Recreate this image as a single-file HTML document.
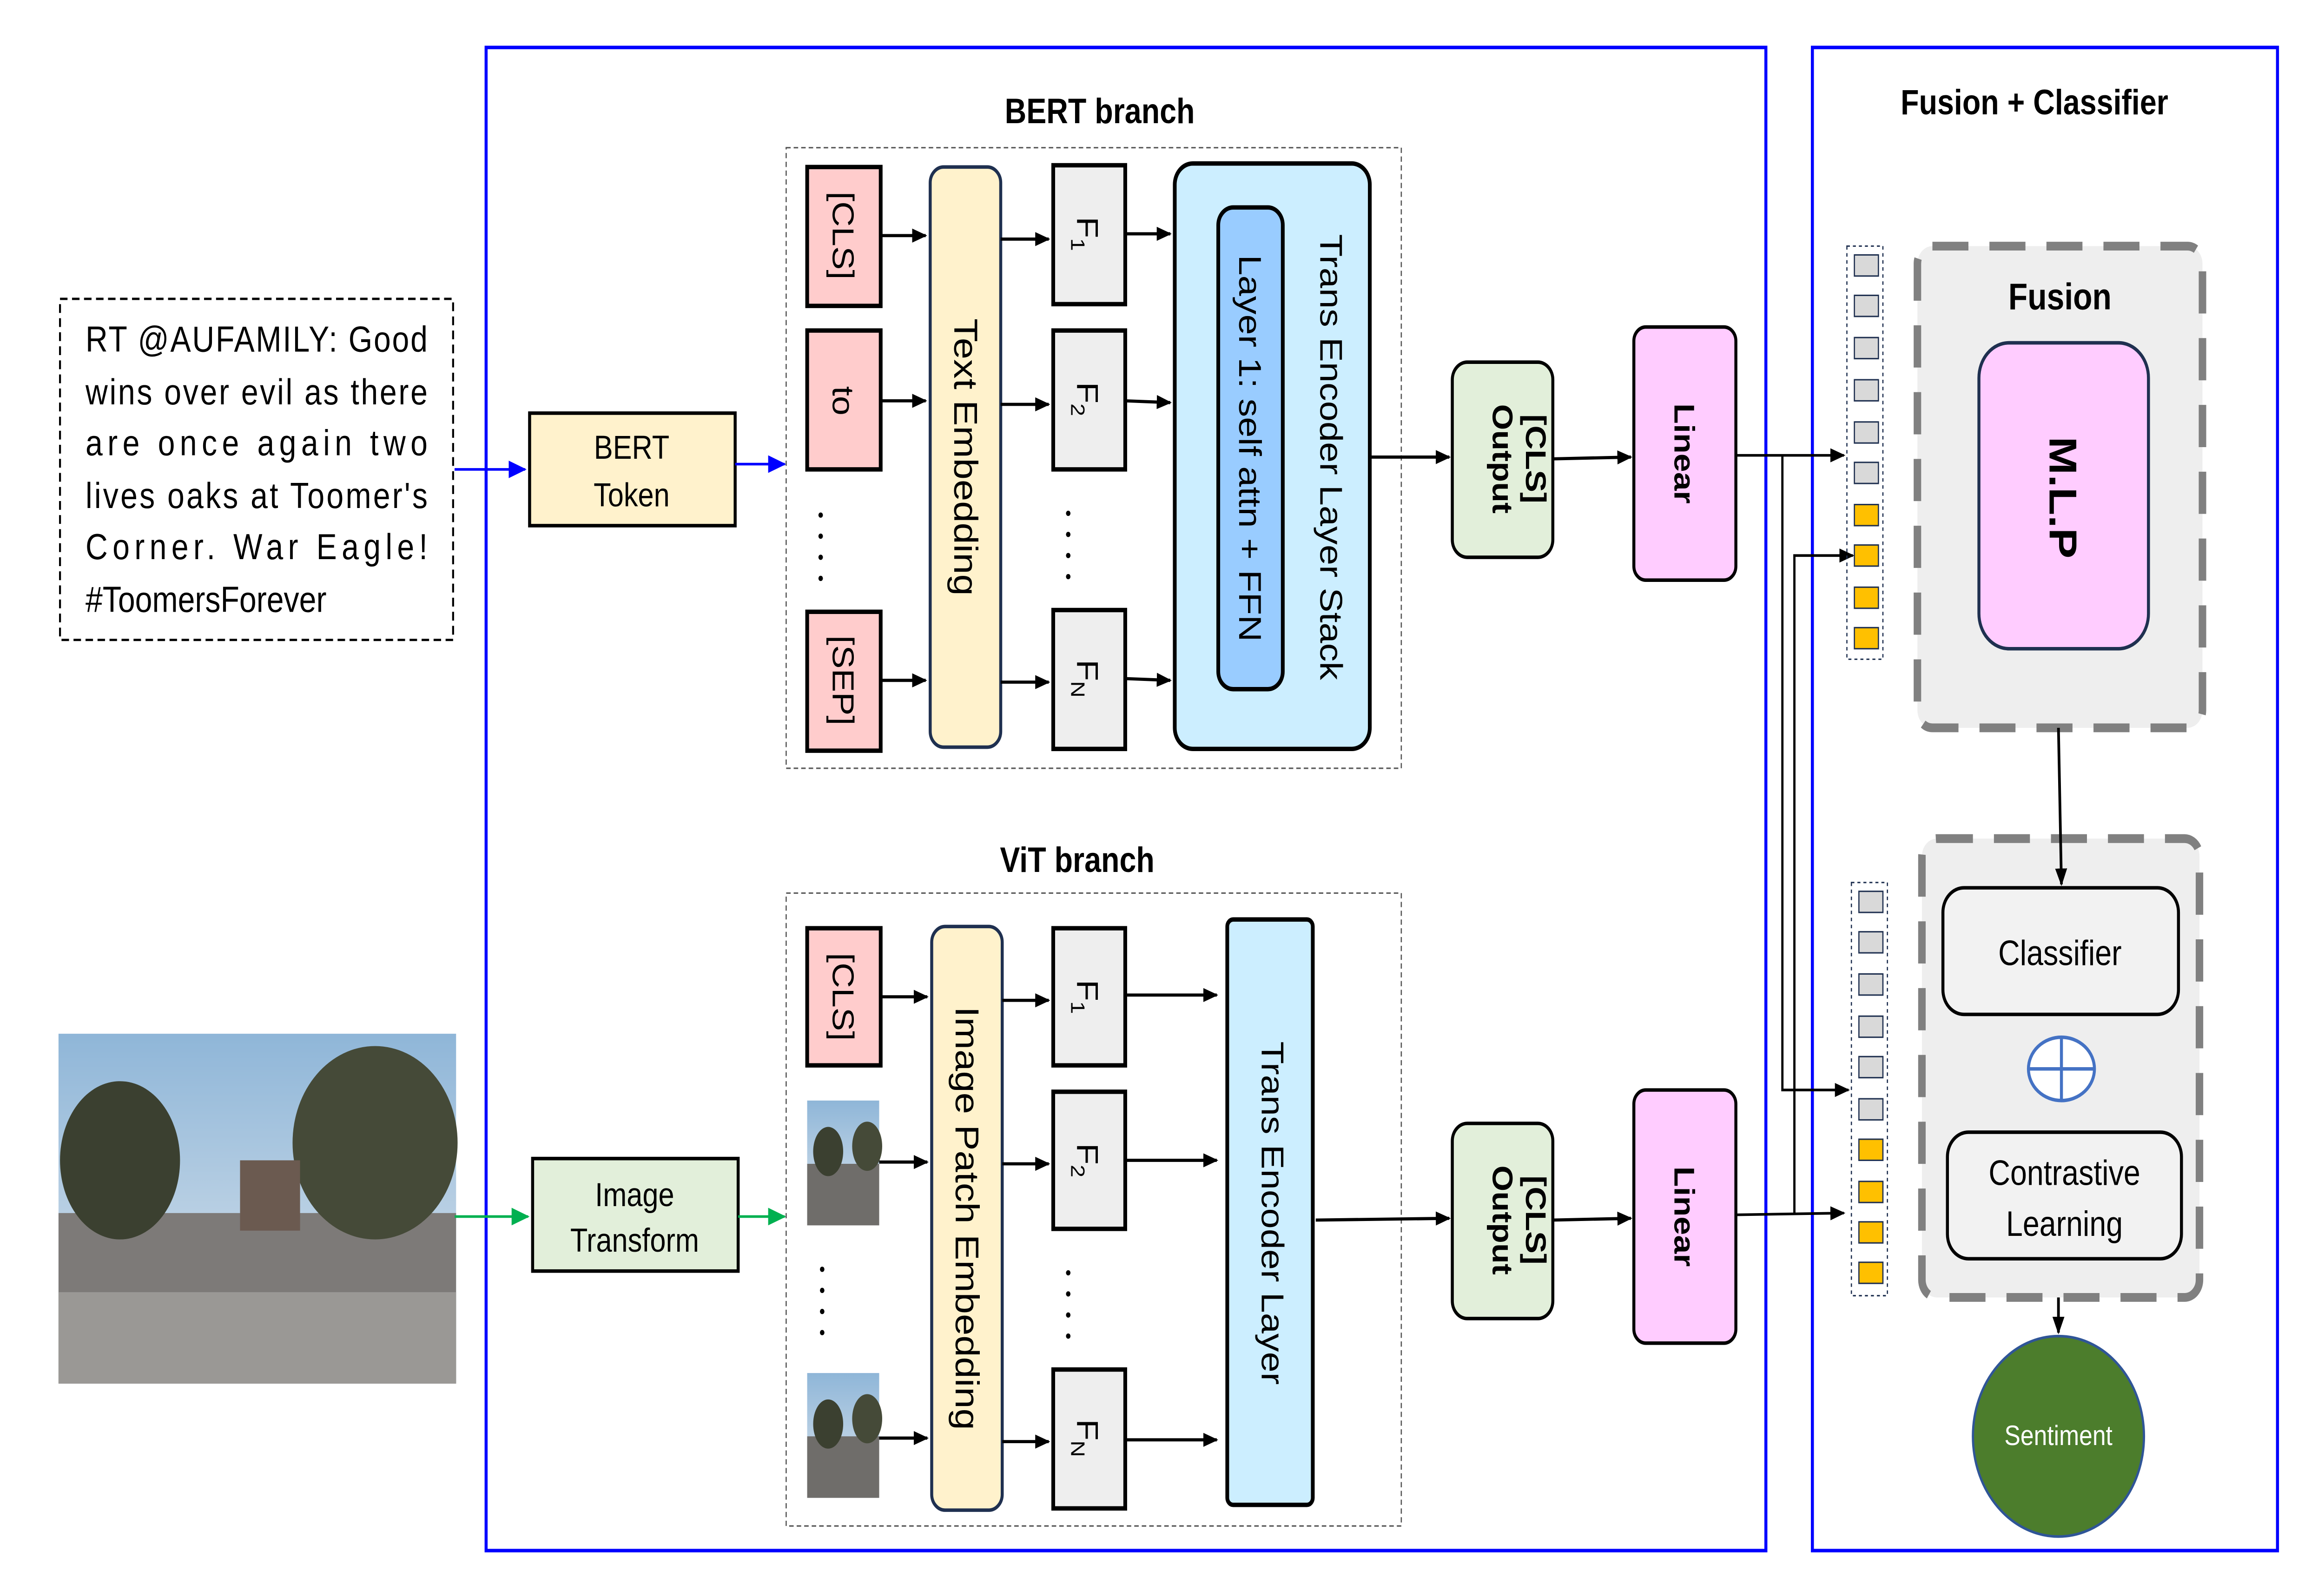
<!DOCTYPE html>
<html><head><meta charset="utf-8"><style>html,body{margin:0;padding:0;background:#fff;width:100%;height:100%;overflow:hidden}svg{display:block;position:absolute;left:0;top:0;width:100vw;height:100vh}</style></head><body>
<svg xmlns="http://www.w3.org/2000/svg" viewBox="0 0 1549 901" preserveAspectRatio="none" font-family="Liberation Sans, sans-serif">
<defs>
<marker id="ak" markerWidth="10" markerHeight="8" refX="9" refY="4" orient="auto" markerUnits="userSpaceOnUse"><path d="M0,0 L10,4 L0,8 z" fill="#000"/></marker>
<marker id="ab" markerWidth="12" markerHeight="10" refX="11" refY="5" orient="auto" markerUnits="userSpaceOnUse"><path d="M0,0 L12,5 L0,10 z" fill="#0000ff"/></marker>
<marker id="ag" markerWidth="12" markerHeight="10" refX="11" refY="5" orient="auto" markerUnits="userSpaceOnUse"><path d="M0,0 L12,5 L0,10 z" fill="#00b050"/></marker>
<linearGradient id="sky" x1="0" y1="0" x2="0" y2="1"><stop offset="0" stop-color="#8fb6d8"/><stop offset="1" stop-color="#dfe7ee"/></linearGradient>
</defs>
<rect width="1549" height="901" fill="#fff"/>
<rect x="324" y="27" width="853" height="855" fill="none" stroke="#0000ff" stroke-width="2"/>
<rect x="1208" y="27" width="310" height="855" fill="none" stroke="#0000ff" stroke-width="2"/>
<text x="1356" y="65" font-size="20" font-weight="bold" text-anchor="middle">Fusion + Classifier</text>
<rect x="40" y="170" width="262" height="194" fill="#fff" stroke="#000" stroke-width="1.3" stroke-dasharray="5,3"/>
<g font-size="20.5">
<text x="57" y="200" textLength="228" lengthAdjust="spacing">RT @AUFAMILY: Good</text>
<text x="57" y="230" textLength="228" lengthAdjust="spacing">wins over evil as there</text>
<text x="57" y="259" textLength="228" lengthAdjust="spacing">are once again two</text>
<text x="57" y="289" textLength="228" lengthAdjust="spacing">lives oaks at Toomer's</text>
<text x="57" y="318" textLength="228" lengthAdjust="spacing">Corner. War Eagle!</text>
<text x="57" y="348">#ToomersForever</text>
</g>
<rect x="39" y="588" width="265" height="199" fill="url(#sky)"/>
<rect x="39" y="690" width="265" height="97" fill="#7d7a78"/>
<rect x="39" y="735" width="265" height="52" fill="#9a9895"/>
<ellipse cx="80" cy="660" rx="40" ry="45" fill="#3b4030"/>
<ellipse cx="250" cy="650" rx="55" ry="55" fill="#454a38"/>
<rect x="160" y="660" width="40" height="40" fill="#6b5a50"/>
<line x1="303" y1="267" x2="350" y2="267" stroke="#0000ff" stroke-width="1.5" marker-end="url(#ab)"/>
<rect x="353" y="235" width="137" height="64" fill="#fff2cc" stroke="#000" stroke-width="2"/>
<text x="421" y="261" font-size="19" text-anchor="middle">BERT</text>
<text x="421" y="288" font-size="19" text-anchor="middle">Token</text>
<line x1="490" y1="264" x2="523" y2="264" stroke="#0000ff" stroke-width="1.5" marker-end="url(#ab)"/>
<line x1="303" y1="692" x2="352" y2="692" stroke="#00b050" stroke-width="1.5" marker-end="url(#ag)"/>
<rect x="355" y="659" width="137" height="64" fill="#e2efda" stroke="#000" stroke-width="2"/>
<text x="423" y="686" font-size="19" text-anchor="middle">Image</text>
<text x="423" y="712" font-size="19" text-anchor="middle">Transform</text>
<line x1="492" y1="692" x2="523" y2="692" stroke="#00b050" stroke-width="1.5" marker-end="url(#ag)"/>
<text x="733" y="70" font-size="20" font-weight="bold" text-anchor="middle">BERT branch</text>
<rect x="524" y="84" width="410" height="353" fill="none" stroke="#555" stroke-width="0.8" stroke-dasharray="3,2"/>
<g stroke="#000" stroke-width="2.5">
<rect x="538" y="95" width="49" height="79" fill="#ffcccc"/>
<rect x="538" y="188" width="49" height="79" fill="#ffcccc"/>
<rect x="538" y="348" width="49" height="79" fill="#ffcccc"/>
<rect x="702" y="94" width="48" height="79" fill="#eeeeee"/>
<rect x="702" y="188" width="48" height="79" fill="#eeeeee"/>
<rect x="702" y="347" width="48" height="79" fill="#eeeeee"/>
<rect x="783" y="93" width="130" height="333" rx="12" fill="#cceeff"/>
<rect x="812" y="118" width="43" height="274" rx="10" fill="#99ccff"/>
</g>
<rect x="620" y="95" width="47" height="330" rx="9" fill="#fff2cc" stroke="#1f3050" stroke-width="2"/>
<g font-size="20">
<text transform="translate(555,134) rotate(90)" text-anchor="middle">[CLS]</text>
<text transform="translate(555,228) rotate(90)" text-anchor="middle">to</text>
<text transform="translate(555,387) rotate(90)" text-anchor="middle">[SEP]</text>
<text transform="translate(636,260) rotate(90)" text-anchor="middle" font-size="22">Text Embedding</text>
<text transform="translate(718,133) rotate(90)" text-anchor="middle">F<tspan font-size="13" dy="4">1</tspan></text>
<text transform="translate(718,227) rotate(90)" text-anchor="middle">F<tspan font-size="13" dy="4">2</tspan></text>
<text transform="translate(718,386) rotate(90)" text-anchor="middle">F<tspan font-size="13" dy="4">N</tspan></text>
<text transform="translate(826,255) rotate(90)" text-anchor="middle" font-size="21">Layer 1: self attn + FFN</text>
<text transform="translate(880,260) rotate(90)" text-anchor="middle" font-size="21">Trans Encoder Layer Stack</text>
</g>
<g fill="#000"><circle cx="547" cy="293" r="1.5"/><circle cx="547" cy="305" r="1.5"/><circle cx="547" cy="317" r="1.5"/><circle cx="547" cy="329" r="1.5"/>
<circle cx="712" cy="292" r="1.5"/><circle cx="712" cy="304" r="1.5"/><circle cx="712" cy="316" r="1.5"/><circle cx="712" cy="328" r="1.5"/></g>
<g stroke="#000" stroke-width="1.8" marker-end="url(#ak)">
<line x1="587" y1="134" x2="617" y2="134"/><line x1="587" y1="228" x2="617" y2="228"/><line x1="587" y1="387" x2="617" y2="387"/>
<line x1="667" y1="136" x2="699" y2="136"/><line x1="667" y1="230" x2="699" y2="230"/><line x1="667" y1="388" x2="699" y2="388"/>
<line x1="750" y1="133" x2="780" y2="133"/><line x1="750" y1="228" x2="780" y2="229"/><line x1="750" y1="386" x2="780" y2="387"/>
<line x1="913" y1="260" x2="966" y2="260"/>
<line x1="1035" y1="261" x2="1087" y2="260"/>
</g>
<rect x="968" y="206" width="67" height="111" rx="10" fill="#e2efda" stroke="#000" stroke-width="2"/>
<text transform="translate(1005,261) rotate(90)" text-anchor="middle" font-size="19" font-weight="bold"><tspan x="0" dy="-12">[CLS]</tspan><tspan x="0" dy="22">Output</tspan></text>
<rect x="1089" y="186" width="68" height="144" rx="8" fill="#ffccff" stroke="#000" stroke-width="2"/>
<text transform="translate(1116,258) rotate(90)" text-anchor="middle" font-size="19" font-weight="bold">Linear</text>
<text x="718" y="496" font-size="20" font-weight="bold" text-anchor="middle">ViT branch</text>
<rect x="524" y="508" width="410" height="360" fill="none" stroke="#555" stroke-width="0.8" stroke-dasharray="3,2"/>
<g stroke="#000" stroke-width="2.5">
<rect x="538" y="528" width="49" height="78" fill="#ffcccc"/>
<rect x="702" y="528" width="48" height="78" fill="#eeeeee"/>
<rect x="702" y="621" width="48" height="78" fill="#eeeeee"/>
<rect x="702" y="779" width="48" height="79" fill="#eeeeee"/>
<rect x="818" y="523" width="57" height="333" rx="4" fill="#cceeff"/>
</g>
<rect x="621" y="527" width="47" height="332" rx="9" fill="#fff2cc" stroke="#1f3050" stroke-width="2"/>
<g>
<rect x="538" y="626" width="48" height="71" fill="url(#sky)"/><rect x="538" y="662" width="48" height="35" fill="#6f6d6a"/><ellipse cx="552" cy="655" rx="10" ry="14" fill="#3b4030"/><ellipse cx="578" cy="652" rx="10" ry="14" fill="#454a38"/>
<rect x="538" y="781" width="48" height="71" fill="url(#sky)"/><rect x="538" y="817" width="48" height="35" fill="#6f6d6a"/><ellipse cx="552" cy="810" rx="10" ry="14" fill="#3b4030"/><ellipse cx="578" cy="807" rx="10" ry="14" fill="#454a38"/>
</g>
<g font-size="20">
<text transform="translate(555,567) rotate(90)" text-anchor="middle">[CLS]</text>
<text transform="translate(637,693) rotate(90)" text-anchor="middle" font-size="22">Image Patch Embedding</text>
<text transform="translate(718,567) rotate(90)" text-anchor="middle">F<tspan font-size="13" dy="4">1</tspan></text>
<text transform="translate(718,660) rotate(90)" text-anchor="middle">F<tspan font-size="13" dy="4">2</tspan></text>
<text transform="translate(718,818) rotate(90)" text-anchor="middle">F<tspan font-size="13" dy="4">N</tspan></text>
<text transform="translate(841,690) rotate(90)" text-anchor="middle" font-size="21">Trans Encoder Layer</text>
</g>
<g fill="#000"><circle cx="548" cy="722" r="1.5"/><circle cx="548" cy="734" r="1.5"/><circle cx="548" cy="746" r="1.5"/><circle cx="548" cy="758" r="1.5"/>
<circle cx="712" cy="724" r="1.5"/><circle cx="712" cy="736" r="1.5"/><circle cx="712" cy="748" r="1.5"/><circle cx="712" cy="760" r="1.5"/></g>
<g stroke="#000" stroke-width="1.8" marker-end="url(#ak)">
<line x1="587" y1="567" x2="618" y2="567"/><line x1="586" y1="661" x2="618" y2="661"/><line x1="586" y1="818" x2="618" y2="818"/>
<line x1="668" y1="569" x2="699" y2="569"/><line x1="668" y1="662" x2="699" y2="662"/><line x1="668" y1="820" x2="699" y2="820"/>
<line x1="750" y1="566" x2="811" y2="566"/><line x1="750" y1="660" x2="811" y2="660"/><line x1="750" y1="819" x2="811" y2="819"/>
<line x1="877" y1="694" x2="966" y2="693"/>
<line x1="1035" y1="694" x2="1087" y2="693"/>
</g>
<rect x="968" y="639" width="67" height="111" rx="10" fill="#e2efda" stroke="#000" stroke-width="2"/>
<text transform="translate(1005,694) rotate(90)" text-anchor="middle" font-size="19" font-weight="bold"><tspan x="0" dy="-12">[CLS]</tspan><tspan x="0" dy="22">Output</tspan></text>
<rect x="1089" y="620" width="68" height="144" rx="8" fill="#ffccff" stroke="#000" stroke-width="2"/>
<text transform="translate(1116,692) rotate(90)" text-anchor="middle" font-size="19" font-weight="bold">Linear</text>
<g stroke="#000" stroke-width="1.5" fill="none">
<line x1="1157" y1="259" x2="1229" y2="259" marker-end="url(#ak)"/>
<polyline points="1188,259 1188,620 1232,620" marker-end="url(#ak)"/>
<line x1="1157" y1="691" x2="1229" y2="690" marker-end="url(#ak)"/>
<polyline points="1196,691 1196,316 1235,316" marker-end="url(#ak)"/>
</g>
<rect x="1231" y="140" width="24" height="235" fill="none" stroke="#1f3050" stroke-width="0.8" stroke-dasharray="2,2"/>
<rect x="1234" y="502" width="24" height="235" fill="none" stroke="#1f3050" stroke-width="0.8" stroke-dasharray="2,2"/>
<g stroke="#1f3050" stroke-width="0.8">
<rect x="1236" y="145" width="16" height="12" fill="#d9d9d9"/><rect x="1236" y="168" width="16" height="12" fill="#d9d9d9"/><rect x="1236" y="192" width="16" height="12" fill="#d9d9d9"/><rect x="1236" y="216" width="16" height="12" fill="#d9d9d9"/><rect x="1236" y="240" width="16" height="12" fill="#d9d9d9"/><rect x="1236" y="263" width="16" height="12" fill="#d9d9d9"/>
<rect x="1236" y="287" width="16" height="12" fill="#ffc000"/><rect x="1236" y="310" width="16" height="12" fill="#ffc000"/><rect x="1236" y="334" width="16" height="12" fill="#ffc000"/><rect x="1236" y="357" width="16" height="12" fill="#ffc000"/>
<rect x="1239" y="507" width="16" height="12" fill="#d9d9d9"/><rect x="1239" y="530" width="16" height="12" fill="#d9d9d9"/><rect x="1239" y="554" width="16" height="12" fill="#d9d9d9"/><rect x="1239" y="578" width="16" height="12" fill="#d9d9d9"/><rect x="1239" y="601" width="16" height="12" fill="#d9d9d9"/><rect x="1239" y="625" width="16" height="12" fill="#d9d9d9"/>
<rect x="1239" y="648" width="16" height="12" fill="#ffc000"/><rect x="1239" y="672" width="16" height="12" fill="#ffc000"/><rect x="1239" y="695" width="16" height="12" fill="#ffc000"/><rect x="1239" y="718" width="16" height="12" fill="#ffc000"/>
</g>
<rect x="1278" y="140" width="190" height="274" rx="10" fill="#eeeeee" stroke="#808080" stroke-width="5" stroke-dasharray="24,14"/>
<text x="1373" y="176" font-size="21" font-weight="bold" text-anchor="middle">Fusion</text>
<rect x="1319" y="195" width="113" height="174" rx="20" fill="#ffccff" stroke="#1f3050" stroke-width="2"/>
<text transform="translate(1366,283) rotate(90)" text-anchor="middle" font-size="26" font-weight="bold">M.L.P</text>
<rect x="1281" y="477" width="185" height="261" rx="10" fill="#eeeeee" stroke="#808080" stroke-width="5" stroke-dasharray="24,14"/>
<line x1="1372" y1="414" x2="1374" y2="503" stroke="#000" stroke-width="1.8" marker-end="url(#ak)"/>
<rect x="1295" y="505" width="157" height="72" rx="14" fill="#f2f2f2" stroke="#000" stroke-width="2"/>
<text x="1373" y="549" font-size="20" text-anchor="middle">Classifier</text>
<ellipse cx="1374" cy="608" rx="22" ry="18" fill="#fff" stroke="#4472c4" stroke-width="2"/>
<line x1="1352" y1="608" x2="1396" y2="608" stroke="#4472c4" stroke-width="2"/><line x1="1374" y1="590" x2="1374" y2="626" stroke="#4472c4" stroke-width="2"/>
<rect x="1298" y="644" width="156" height="72" rx="14" fill="#f2f2f2" stroke="#000" stroke-width="2"/>
<text x="1376" y="674" font-size="20" text-anchor="middle">Contrastive</text>
<text x="1376" y="703" font-size="20" text-anchor="middle">Learning</text>
<line x1="1372" y1="738" x2="1372" y2="758" stroke="#000" stroke-width="1.8" marker-end="url(#ak)"/>
<circle cx="1372" cy="817" r="57" fill="#4c7d2c" stroke="#2f5597" stroke-width="1.5"/>
<text x="1372" y="822" font-size="16" fill="#fff" text-anchor="middle">Sentiment</text>
</svg>
</body></html>
